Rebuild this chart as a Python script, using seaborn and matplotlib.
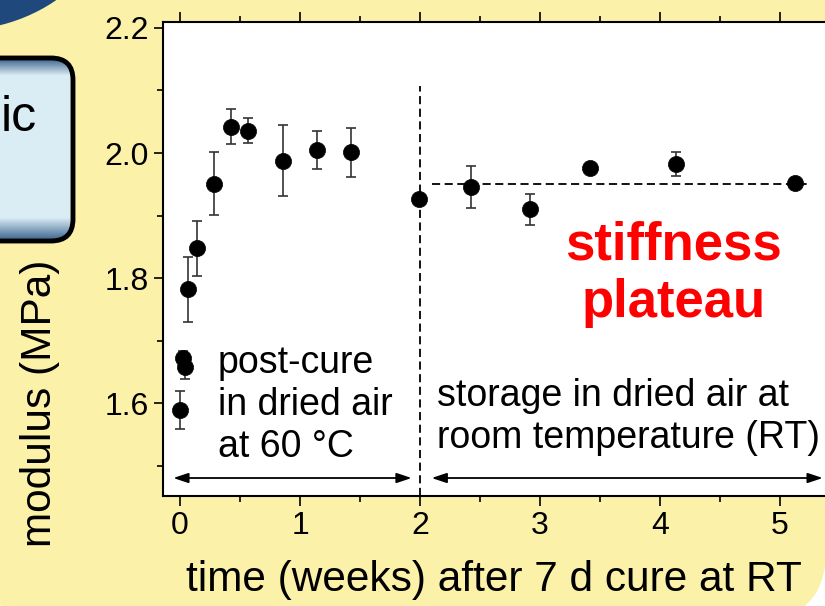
import numpy as np
import matplotlib.pyplot as plt
import seaborn as sns
from matplotlib.patches import FancyBboxPatch, Circle

# ------------------------------------------------------------------------
# Data
# ------------------------------------------------------------------------
time_weeks = [0.0, 0.022, 0.04, 0.07, 0.144, 0.286, 0.425, 0.57, 0.856,
              1.139, 1.425, 1.994, 2.425, 2.917, 3.417, 4.133, 5.125]
modulus = [1.589, 1.672, 1.658, 1.782, 1.848, 1.951, 2.042, 2.036, 1.988,
           2.005, 2.001, 1.926, 1.946, 1.910, 1.976, 1.983, 1.952]
modulus_err = [0.030, 0.012, 0.020, 0.052, 0.044, 0.050, 0.028, 0.020, 0.057,
               0.031, 0.039, 0.0, 0.034, 0.025, 0.0, 0.019, 0.0]

x_ticks = [0, 1, 2, 3, 4, 5]
y_ticks = [1.6, 1.8, 2.0, 2.2]

divide_week = 2.0          # end of post-cure
divide_top = 2.107
plateau_level = 1.95
plateau_span = (2.1, 5.25)
arrow_level = 1.48
postcure_span = (-0.056, 1.93)
storage_span = (2.097, 5.356)

yellow = "#FBF1A9"
navy = "#1F497D"

# ------------------------------------------------------------------------
# Figure + slide background
# ------------------------------------------------------------------------
sns.set_style("ticks")
plt.rcParams["font.family"] = ["Liberation Sans", "DejaVu Sans"]
plt.rcParams.update({"text.color": "black", "axes.labelcolor": "black",
                     "xtick.color": "black", "ytick.color": "black",
                     "axes.edgecolor": "black"})

fig = plt.figure(figsize=(8.25, 6.06), dpi=100)
fig.patch.set_facecolor("white")

bg = fig.add_axes([0, 0, 1, 1])
bg.set_xlim(0, 825)
bg.set_ylim(606, 0)
bg.axis("off")

bg.add_patch(FancyBboxPatch((-20, -60), 846, 680,
                            boxstyle="round,pad=0,rounding_size=70",
                            facecolor=yellow, edgecolor="none"))
bg.add_patch(Circle((-40, -140), 170, facecolor=navy, edgecolor="none"))

# light blue box with a shaded top/bottom edge
box = FancyBboxPatch((-40, 58), 113, 183,
                     boxstyle="round,pad=0,rounding_size=22",
                     facecolor="none", edgecolor="black", linewidth=3.5, zorder=3)
bg.add_patch(box)
grad = np.ones(183)
grad[:18] = np.linspace(0.0, 1.0, 18)
grad[-24:] = np.linspace(1.0, 0.0, 24)
light = np.array([0.86, 0.93, 0.96])
dark = np.array([0.22, 0.38, 0.55])
img = dark[None, :] + (light - dark)[None, :] * grad[:, None]
img = np.repeat(img[:, None, :], 2, axis=1)
im = bg.imshow(img, extent=(-40, 73, 241, 58), aspect="auto", zorder=2)
im.set_clip_path(box)
bg.text(1, 118, "ic", fontsize=36, ha="left", va="center", zorder=4)

# ------------------------------------------------------------------------
# Main plot
# ------------------------------------------------------------------------
ax = fig.add_axes([0.1976, 0.1815, 0.8206, 0.7822])
ax.set_facecolor("white")

ax.errorbar(time_weeks, modulus, yerr=modulus_err, fmt="none",
            ecolor="#333333", elinewidth=1.2, capsize=3.6, capthick=1.2,
            zorder=2)
sns.scatterplot(x=time_weeks, y=modulus, color="black", s=135,
                edgecolor="black", linewidth=0.5, zorder=3, ax=ax)

ax.set_xlim(-0.1417, 5.5)
ax.set_ylim(1.4512, 2.2096)

ax.vlines(divide_week, 1.4512, divide_top, colors="black",
          linestyles=(0, (4.5, 2.5)), linewidth=1.3)
ax.hlines(plateau_level, *plateau_span, colors="black",
          linestyles=(0, (4.5, 2.5)), linewidth=1.3)

arrow_kw = dict(arrowstyle="<|-|>,head_length=0.6,head_width=0.2",
                color="black", lw=1.3, shrinkA=0, shrinkB=0,
                mutation_scale=15)
ax.annotate("", xy=(postcure_span[1], arrow_level),
            xytext=(postcure_span[0], arrow_level), arrowprops=arrow_kw)
ax.annotate("", xy=(storage_span[1], arrow_level),
            xytext=(storage_span[0], arrow_level), arrowprops=arrow_kw)

ax.text(0.317, 1.597, "post-cure\nin dried air\nat 60 °C", fontsize=27,
        ha="left", va="center", linespacing=1.22)
ax.text(2.14, 1.577, "storage in dried air at\nroom temperature (RT)",
        fontsize=27, ha="left", va="center", linespacing=1.22)
ax.text(4.11, 1.806, "stiffness\nplateau", fontsize=38, fontweight="bold",
        color="red", ha="center", va="center", linespacing=1.2)

ax.set_xticks(x_ticks)
ax.set_yticks(y_ticks)
ax.set_xticks(np.arange(-0.0, 5.51, 0.5), minor=True)
ax.set_yticks(np.arange(1.5, 2.21, 0.1), minor=True)
ax.set_yticklabels([f"{v:.1f}" for v in y_ticks])

ax.tick_params(which="major", direction="out", length=6.5, width=1.2,
               labelsize=23, pad=4, top=True, right=False)
ax.tick_params(which="minor", direction="out", length=4.3, width=1.2,
               top=True, right=False)
ax.tick_params(axis="x", which="both", top=True)
ax.tick_params(axis="x", which="major", length=7)
for side in ["left", "bottom", "top"]:
    ax.spines[side].set_linewidth(1.5)
ax.spines["right"].set_visible(False)

ax.set_xlabel("time (weeks) after 7 d cure at RT", fontsize=30.5)
ax.xaxis.label.set_va("center")
ax.xaxis.set_label_coords(0.489, -0.177)
ax.set_ylabel("modulus (MPa)", fontsize=30.5)
ax.yaxis.label.set_va("center")
ax.yaxis.set_label_coords(-0.1817, 0.196)

fig.savefig("out.png", dpi=100)
